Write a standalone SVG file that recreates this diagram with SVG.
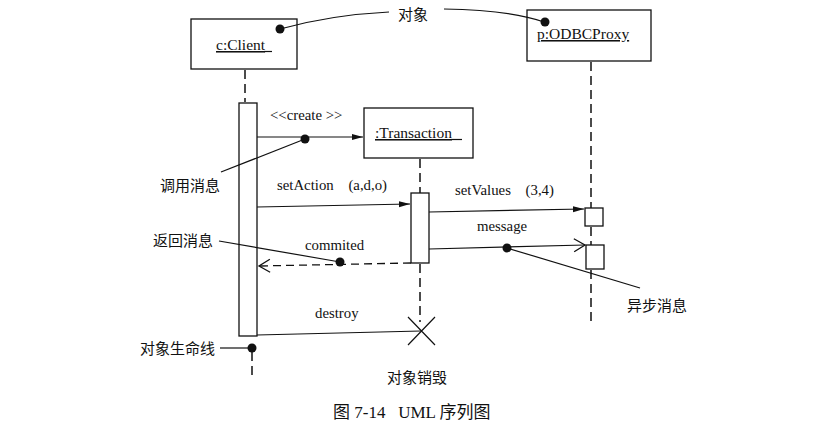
<svg xmlns="http://www.w3.org/2000/svg" width="821" height="432" viewBox="0 0 821 432">
<style>
.box{fill:#fff;stroke:#111;stroke-width:1.3}
.ln{fill:none;stroke:#111;stroke-width:1.2}
.life{fill:none;stroke:#111;stroke-width:1.5;stroke-dasharray:9 5}
.ret{fill:none;stroke:#111;stroke-width:1.3;stroke-dasharray:8 5}
.en{font-family:"Liberation Serif","Times New Roman",serif;font-size:14.8px;fill:#111}
.nm{font-family:"Liberation Serif","Times New Roman",serif;font-size:15.5px;fill:#111;text-decoration:underline}
.zh{font-family:"Noto Sans CJK SC","Noto Sans",sans-serif;font-size:15px;fill:#111}
.dot{fill:#111}
</style>
<defs>
<marker id="fill" markerWidth="12" markerHeight="8" refX="11" refY="4" orient="auto" markerUnits="userSpaceOnUse">
<path d="M0,1 L11,4 L0,7 Z" fill="#111"/>
</marker>
<marker id="open" markerWidth="14" markerHeight="16" refX="12" refY="8" orient="auto" markerUnits="userSpaceOnUse">
<path d="M1,1.5 L12,8 L1,14.5" fill="none" stroke="#111" stroke-width="1.3"/>
</marker>
</defs>
<rect width="821" height="432" fill="#fff"/>

<g id="client">
<rect class="box" x="191" y="19" width="106" height="50"/>
<text class="nm" x="216" y="50">c:Client</text>
<path class="ln" d="M264,51.5 H272"/>
<path class="life" d="M245,70 V102"/>
<rect class="box" x="239" y="103" width="18" height="233"/>
<path class="life" d="M252,352 V380"/>
</g>

<g id="transaction">
<rect class="box" x="364" y="108" width="109" height="50"/>
<text class="nm" x="375" y="138">:Transaction</text>
<path class="ln" d="M451,139.5 H462"/>
<path class="life" d="M420,159 V193"/>
<rect class="box" x="411" y="193" width="18" height="70"/>
<path class="life" d="M420,264 V322"/>
<path class="ln" d="M408,317 L435,345 M435,317 L408,345" stroke-width="1.3"/>
</g>

<g id="proxy">
<rect class="box" x="527" y="10" width="124" height="51"/>
<text class="nm" x="537" y="39">p:ODBCProxy</text>
<path class="life" d="M591,62 V208 M591,227 V245 M591,270 V326"/>
<rect class="box" x="585" y="208" width="18" height="18"/>
<rect class="box" x="586" y="245" width="18" height="24"/>
</g>

<g id="connectors">
<path class="ln" d="M257,137 H363" marker-end="url(#fill)"/>
<path class="ln" d="M257,207 L410,204" marker-end="url(#fill)"/>
<path class="ln" d="M429,212 L584,209" marker-end="url(#fill)"/>
<path class="ln" d="M429,249 L585,245" marker-end="url(#open)"/>
<path class="ret" d="M411,263 L259,266" marker-end="url(#open)"/>
<path class="ln" d="M257,335 L421,331"/>
</g>

<g id="labels">
<text class="en" x="270" y="120">&lt;&lt;create &gt;&gt;</text>
<text class="en" x="277" y="190" word-spacing="11">setAction (a,d,o)</text>
<text class="en" x="455" y="195" word-spacing="11">setValues (3,4)</text>
<text class="en" x="477" y="231">message</text>
<text class="en" x="305" y="250">commited</text>
<text class="en" x="315" y="318">destroy</text>
</g>

<g id="notes">
<text class="zh" x="398" y="20">对象</text>
<path class="ln" d="M280,29 Q330,15 389,12"/>
<path class="ln" d="M444,9 Q510,10 544,22"/>
<circle class="dot" cx="280" cy="29" r="4.5"/>
<circle class="dot" cx="545" cy="22" r="4.5"/>

<text class="zh" x="160" y="191">调用消息</text>
<path class="ln" d="M221,172 L305,139"/>
<circle class="dot" cx="305" cy="139" r="4.5"/>

<text class="zh" x="153" y="246">返回消息</text>
<path class="ln" d="M219,241 L340,262"/>
<circle class="dot" cx="340" cy="262" r="4.5"/>

<text class="zh" x="627" y="311">异步消息</text>
<path class="ln" d="M507,248 L640,288"/>
<circle class="dot" cx="507" cy="248" r="4.5"/>

<text class="zh" x="140" y="354">对象生命线</text>
<path class="ln" d="M220,348 H252"/>
<circle class="dot" cx="252" cy="348" r="4.5"/>

<text class="zh" x="387" y="383">对象销毁</text>
</g>

<text x="333" y="418" font-family="'Liberation Serif','Noto Sans CJK SC',serif" font-size="17" fill="#111" xml:space="preserve">图 7-14   UML 序列图</text>
</svg>
